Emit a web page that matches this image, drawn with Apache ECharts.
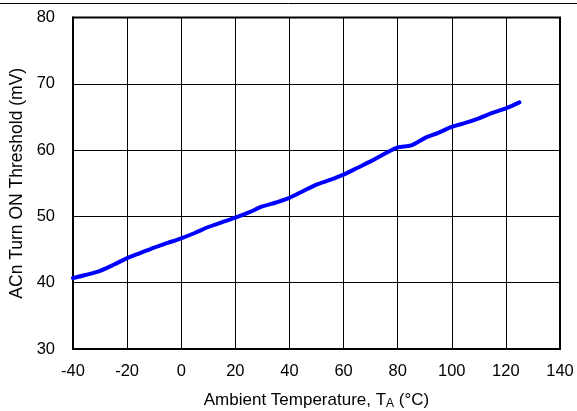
<!DOCTYPE html>
<html>
<head>
<meta charset="utf-8">
<script src="https://cdn.jsdelivr.net/npm/echarts@6/dist/echarts.min.js"></script>
<style>
html,body{margin:0;padding:0;background:#fff;}
#c{width:577px;height:411px;}
</style>
</head>
<body>
<div id="c"></div>
<script>
const temps = [-40,-35,-30,-25,-20,-15,-10,-5,0,5,10,15,20,25,30,35,40,45,50,55,60,65,70,75,80,85,90,95,100,105,110,115,120,125];
const threshold = [40.7,41.2,41.8,42.7,43.7,44.5,45.3,46.0,46.7,47.5,48.4,49.1,49.8,50.6,51.5,52.1,52.8,53.8,54.8,55.5,56.3,57.3,58.3,59.4,60.4,60.7,61.8,62.6,63.5,64.1,64.8,65.6,66.3,67.2];
const xTitle = 'Ambient Temperature, T{sub|A} (°C)';
const yTitle = 'ACn Turn ON Threshold (mV)';

const font = '"Liberation Sans", Arial, sans-serif';
const chart = echarts.init(document.getElementById('c'));
chart.setOption({
  animation: false,
  backgroundColor: '#fff',
  grid: {left: 73, right: 17, top: 17.5, bottom: 62, outerBoundsMode: 'none', containLabel: false,
    show: true, borderColor: '#000', borderWidth: 2, backgroundColor: 'transparent'},
  graphic: [{type: 'line', shape: {x1: 0, y1: 3.5, x2: 577, y2: 3.5}, style: {stroke: '#000', lineWidth: 1}}],
  xAxis: {
    type: 'value', min: -40, max: 140, interval: 20,
    axisLine: {show: true, onZero: false, lineStyle: {color: '#000', width: 2}},
    axisTick: {show: false},
    splitLine: {show: true, lineStyle: {color: '#000', width: 1}},
    axisLabel: {color: '#000', fontSize: 16.5, fontFamily: font, margin: 14},
    name: xTitle, nameLocation: 'middle', nameGap: 42,
    nameTextStyle: {color: '#000', fontSize: 17, fontFamily: font,
      rich: {sub: {fontSize: 12, fontFamily: font, color: '#000', padding: [7,0,0,0]}}}
  },
  yAxis: {
    type: 'value', min: 30, max: 80, interval: 10,
    axisLine: {show: true, onZero: false, lineStyle: {color: '#000', width: 2}},
    axisTick: {show: false},
    splitLine: {show: true, lineStyle: {color: '#000', width: 1}},
    axisLabel: {color: '#000', fontSize: 16.5, fontFamily: font, margin: 18},
    name: yTitle, nameLocation: 'middle', nameGap: 46,
    nameTextStyle: {color: '#000', fontSize: 17.5, fontFamily: font}
  },
  series: [{
    type: 'line', data: temps.map((t, i) => [t, threshold[i]]),
    showSymbol: false, smooth: 0.3,
    lineStyle: {color: '#0000FF', width: 4, cap: 'round'},
    z: 5
  }]
});
</script>
</body>
</html>
